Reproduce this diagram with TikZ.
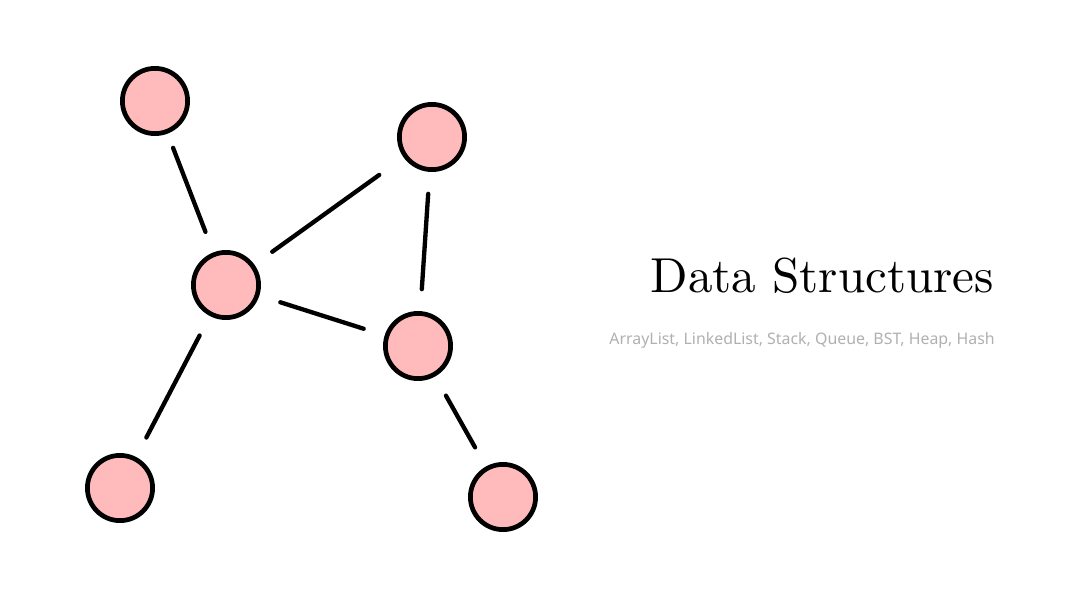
\documentclass[tikz,border=0pt]{standalone}
\usepackage{fontspec}
\newfontfamily\sottofont{Noto Sans}
\usepackage{tikz}
\usetikzlibrary{shapes,positioning,calc}
\definecolor{rosa}{RGB}{255,187,187}
\definecolor{grigio}{RGB}{176,176,176}
\tikzstyle{nodo} = [circle, minimum size=1.63cm, inner sep=0pt, fill=rosa, draw=black, line width=0.118cm]
\tikzstyle{arco} = [line width=0.108cm, line cap=round, shorten >=0.55cm, shorten <=0.55cm]

\begin{document}
\begin{tikzpicture}[x=0.025cm, y=-0.025cm]
						\useasboundingbox (0,0) rectangle (1080,600);
						\node (a) at (155,101) [nodo] {};
						\node (b) at (432,137) [nodo] {};
						\node (c) at (226,285) [nodo] {};
						\node (d) at (418,346) [nodo] {};
						\node (e) at (120,488) [nodo] {};
						\node (f) at (503,497) [nodo] {};
						\draw[arco, shorten <=0.38cm] (a) -- (c);
						\draw[arco, shorten >=0.75cm] (c) -- (b);
						\draw[arco] (c) -- (d);
						\draw[arco] (b) -- (d);
						\draw[arco] (c) -- (e);
						\draw[arco] (d) -- (f);
						\node (titolo) at (995,292) [anchor=base east, inner sep=0pt, scale=3.49] {Data Structures};
						\node (sotto) at (995,344) [anchor=base east, inner sep=0pt, text=grigio] {\sottofont\fontsize{11.3}{13}\selectfont ArrayList, LinkedList, Stack, Queue, BST, Heap, Hash};
					\end{tikzpicture}
\end{document}
